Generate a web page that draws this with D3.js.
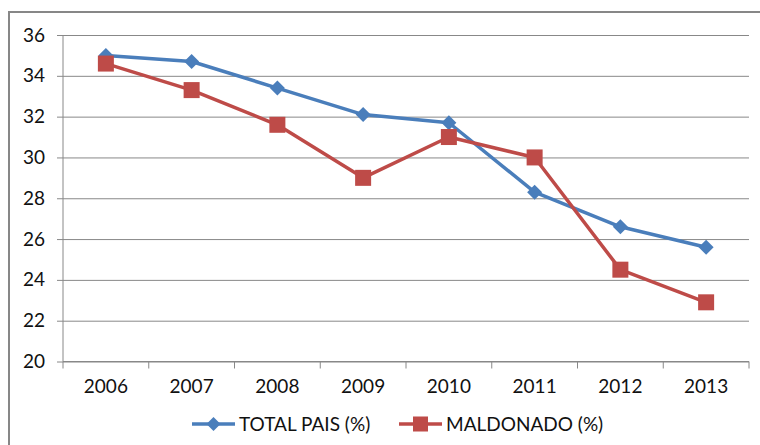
<!DOCTYPE html>
<html>
<head>
<meta charset="utf-8">
<script src="https://cdnjs.cloudflare.com/ajax/libs/d3/7.8.5/d3.min.js"></script>
<style>
  body { margin: 0; background: #fff; }
  text { font-family: Lato, "Open Sans", sans-serif; fill: #111; }
</style>
</head>
<body>
<div class="vis"></div>
<script>
'use strict';

// data
var years = ['2006', '2007', '2008', '2009', '2010', '2011', '2012', '2013'];
var totalPais = [35.0, 34.7, 33.4, 32.1, 31.7, 28.3, 26.6, 25.6];
var maldonado = [34.6, 33.3, 31.6, 29.0, 31.0, 30.0, 24.5, 22.9];
var yTicks = [20, 22, 24, 26, 28, 30, 32, 34, 36];
var seriesNames = ['TOTAL PAIS (%)', 'MALDONADO (%)'];

var width = 760;
var height = 445;
var plot = { left: 63, right: 749, top: 35, bottom: 361.5 };

var blue = '#4a7ebb';
var red = '#be4b48';
var gridColor = '#888888';

var svg = d3.select('.vis')
  .append('svg')
    .attr('width', width)
    .attr('height', height);

// chart frame
svg.append('rect')
  .attr('x', 9).attr('y', 12)
  .attr('width', 770).attr('height', 450)
  .attr('fill', 'none')
  .attr('stroke', '#878787')
  .attr('stroke-width', 2);

var x = d3.scalePoint()
  .domain(years)
  .range([plot.left, plot.right])
  .padding(0.5);

var y = d3.scaleLinear()
  .domain([20, 36])
  .range([plot.bottom, plot.top]);

// horizontal gridlines + y labels
var yAxis = d3.axisLeft(y)
  .tickValues(yTicks)
  .tickSize(-(plot.right - plot.left))
  .tickPadding(18)
  .tickFormat(d3.format('d'));

var gy = svg.append('g')
  .attr('transform', 'translate(' + plot.left + ',0)')
  .call(yAxis);
gy.select('.domain').remove();
gy.selectAll('line')
  .attr('x1', -6)
  .attr('stroke', gridColor);
gy.selectAll('text')
  .attr('font-size', 19)
  .style('font-family', 'Lato, sans-serif')
  .style('fill', '#111');

// vertical axis line
svg.append('line')
  .attr('x1', plot.left).attr('x2', plot.left)
  .attr('y1', plot.top).attr('y2', plot.bottom)
  .attr('stroke', gridColor);

// x axis with ticks between categories
var step = x.step();
var boundaries = d3.range(years.length + 1).map(function(i) { return plot.left + i * step; });

var gx = svg.append('g');
gx.append('line')
  .attr('x1', plot.left).attr('x2', plot.right)
  .attr('y1', plot.bottom).attr('y2', plot.bottom)
  .attr('stroke', gridColor);
gx.selectAll('line.tick')
  .data(boundaries)
  .enter().append('line')
    .attr('class', 'tick')
    .attr('x1', function(d) { return d; })
    .attr('x2', function(d) { return d; })
    .attr('y1', plot.bottom)
    .attr('y2', plot.bottom + 7)
    .attr('stroke', gridColor);
gx.selectAll('text')
  .data(years)
  .enter().append('text')
    .attr('x', function(d) { return x(d); })
    .attr('y', 393)
    .attr('text-anchor', 'middle')
    .attr('font-size', 19)
    .text(function(d) { return d; });

var line = d3.line()
  .x(function(d, i) { return x(years[i]); })
  .y(function(d) { return y(d); });

function diamond(g, size) {
  return g.append('path')
    .attr('d', 'M0,' + (-size) + 'L' + size + ',0L0,' + size + 'L' + (-size) + ',0Z')
    .attr('fill', blue);
}

// series 1
svg.append('path')
  .datum(totalPais)
  .attr('d', line)
  .attr('fill', 'none')
  .attr('stroke', blue)
  .attr('stroke-width', 3.5)
  .attr('stroke-linejoin', 'round');

// series 2
svg.append('path')
  .datum(maldonado)
  .attr('d', line)
  .attr('fill', 'none')
  .attr('stroke', red)
  .attr('stroke-width', 3.5)
  .attr('stroke-linejoin', 'round');

svg.selectAll('g.diamond')
  .data(totalPais)
  .enter().append('g')
    .attr('class', 'diamond')
    .attr('transform', function(d, i) { return 'translate(' + x(years[i]) + ',' + y(d) + ')'; })
    .each(function() { diamond(d3.select(this), 7.5); });

svg.selectAll('rect.square')
  .data(maldonado)
  .enter().append('rect')
    .attr('class', 'square')
    .attr('x', function(d, i) { return x(years[i]) - 8; })
    .attr('y', function(d) { return y(d) - 8; })
    .attr('width', 16)
    .attr('height', 16)
    .attr('fill', red);

// legend
var legend = svg.append('g');
var items = [
  { name: seriesNames[0], color: blue, x: 192, shape: 'diamond' },
  { name: seriesNames[1], color: red, x: 399, shape: 'square' }
];
items.forEach(function(it) {
  var g = legend.append('g').attr('transform', 'translate(' + it.x + ',424)');
  g.append('line')
    .attr('x1', 0).attr('x2', 43)
    .attr('stroke', it.color)
    .attr('stroke-width', 3.5);
  if (it.shape === 'diamond') {
    diamond(g.append('g').attr('transform', 'translate(21.5,0)'), 7);
  } else {
    g.append('rect')
      .attr('x', 21.5 - 7.5).attr('y', -7.5)
      .attr('width', 15).attr('height', 15)
      .attr('fill', it.color);
  }
  g.append('text')
    .attr('x', 47)
    .attr('y', 7)
    .attr('font-size', 19)
    .text(it.name);
});
</script>
</body>
</html>
